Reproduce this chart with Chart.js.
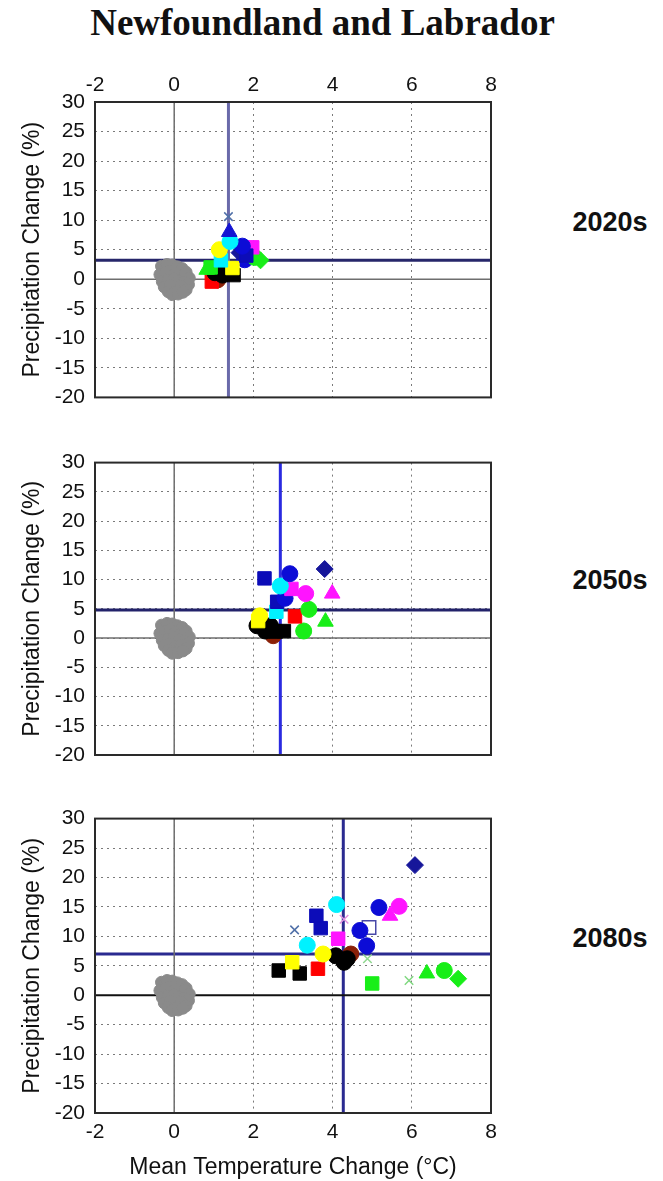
<!DOCTYPE html>
<html>
<head>
<meta charset="utf-8">
<script src="https://cdn.jsdelivr.net/npm/chart.js@4.4.0/dist/chart.umd.min.js"></script>
<style>
  body { margin: 0; background: #fff; }
  #page { position: relative; width: 663px; height: 1181px; overflow: hidden; background: #fff; }
  canvas { position: absolute; left: 0; }
  .title { position: absolute; left: 0; top: 2px; width: 645px; text-align: center;
           font: bold 37px "Liberation Serif", serif; line-height: 42px; color: #111; }
  .period { position: absolute; left: 560px; width: 100px; text-align: center;
            font: bold 27px "Liberation Sans", Arial, sans-serif; line-height: 27px; color: #111; }
</style>
</head>
<body>
<div id="page">
  <div class="title">Newfoundland and Labrador</div>
  <canvas id="c0" width="520" height="370" style="top:50px"></canvas>
  <canvas id="c1" width="520" height="340" style="top:440px"></canvas>
  <canvas id="c2" width="520" height="385" style="top:796px"></canvas>
  <div class="period" style="top:209px">2020s</div>
  <div class="period" style="top:567px">2050s</div>
  <div class="period" style="top:925px">2080s</div>
</div>
<script>
// Axis ranges and ticks
const xLimits = [-2, 8];
const yLimits = [-20, 30];
const xStep = 2;
const yStep = 5;

// Mean of all scenarios per period
const periods = ['2020s', '2050s', '2080s'];
const meanTemp = [1.37, 2.68, 4.27];
const meanPrecip = [3.2, 4.8, 7.0];

// Natural variability (control run) - same cloud in every panel
const controlTemp = [-0.32, -0.18, -0.05, 0.08, 0.2, 0.3, -0.36, -0.22, -0.1, 0.03, 0.15, 0.27, 0.38,
  -0.3, -0.15, 0, 0.12, 0.25, 0.36, -0.25, -0.1, 0.05, 0.18, 0.3, -0.15, 0, 0.14, -0.05, 0.1, 0.22];
const controlPrecip = [2.2, 2.5, 2.4, 2.1, 1.8, 1.2, 0.8, 1.1, 1.4, 1.0, 0.6, 0.9, 0.2,
  -0.4, -0.2, 0.1, -0.3, -0.5, -0.9, -1.3, -1.0, -1.4, -1.2, -1.8, -2.1, -2.3, -2.0, -2.6, -2.5, -2.2];

// Scenario runs, 2020s
const runs2020s = ['r01', 'r02', 'r06', 'r11', 'r05', 'r04', 'r03', 'r10', 'r16', 'r13', 'r07',
  'r12', 'r14', 'r15', 'r17', 'r26', 'r18', 'r23', 'r19', 'r20', 'r25'];
const temp2020s = [1.37, 1.39, 1.41, 1.14, 1.72, 1.82, 1.65, 1.97, 2.18, 2.03, 1.18,
  1.47, 0.82, 0.92, 1.03, 1.22, 1.50, 1.35, 0.95, 1.10, 1.78];
const precip2020s = [10.6, 8.0, 6.4, 5.0, 5.6, 4.0, 4.5, 5.4, 3.2, 3.7, 3.2,
  1.9, 1.6, 2.0, 1.1, 0.7, 0.7, 0.9, -0.4, -0.1, 3.3];

// Scenario runs, 2050s
const runs2050s = ['r04', 'r05', 'r03', 'r06', 'r10', 'r08', 'r09', 'r25', 'r28', 'r07', 'r13',
  'r19', 'r14', 'r11', 'r12', 'r17', 'r26', 'r18', 'r23', 'r27', 'r20', 'r29'];
const temp2050s = [2.28, 2.92, 3.80, 2.68, 2.96, 3.32, 3.99, 2.80, 2.60, 2.58, 3.40,
  3.05, 3.82, 2.16, 2.12, 2.09, 2.30, 2.56, 2.77, 2.43, 2.50, 3.27];
const precip2050s = [10.2, 11.0, 11.8, 8.9, 8.4, 7.6, 7.6, 6.8, 6.2, 4.5, 4.9,
  3.7, 2.8, 3.8, 2.9, 2.1, 1.2, 1.1, 1.2, 2.1, 0.4, 1.2];

// Scenario runs, 2080s
const runs2080s = ['r03', 'r05', 'r08', 'r09', 'r06', 'r04', 'r28', 'r01', 'r24', 'r25', 'r21',
  'r10', 'r30', 'r31', 'r11', 'r17', 'r26', 'r27', 'r20', 'r12', 'r18', 'r23', 'r19', 'r15',
  'r22', 'r14', 'r13', 'r16', 'r32'];
const temp2080s = [6.08, 5.17, 5.68, 5.45, 4.10, 3.59, 3.70, 3.04, 4.29, 4.69, 4.92,
  4.14, 4.86, 3.36, 3.76, 4.08, 4.37, 4.29, 4.46, 2.98, 2.64, 3.17, 3.63, 5.00,
  5.93, 6.38, 6.82, 7.17, 4.88];
const precip2080s = [22.1, 14.9, 15.1, 13.5, 15.4, 13.5, 11.4, 11.1, 12.9, 11.0, 11.5,
  9.6, 8.4, 8.5, 7.0, 6.7, 6.2, 5.6, 7.0, 5.6, 4.2, 3.7, 4.5, 2.0,
  2.5, 3.7, 4.2, 2.8, 6.2];

// Marker look for each run
const runStyles = {
  r01: { color: '#5070a8', shape: 'crossRot', fill: false },
  r02: { color: '#1414d2', shape: 'triangle', fill: true },
  r03: { color: '#16169a', shape: 'rectRot', fill: true },
  r04: { color: '#0c0cb8', shape: 'rect', fill: true },
  r05: { color: '#0c0cd6', shape: 'circle', fill: true },
  r06: { color: '#00f2ff', shape: 'circle', fill: true },
  r07: { color: '#00f2ff', shape: 'rect', fill: true },
  r08: { color: '#ff14ff', shape: 'circle', fill: true },
  r09: { color: '#ff14ff', shape: 'triangle', fill: true },
  r10: { color: '#ff14ff', shape: 'rect', fill: true },
  r11: { color: '#ffff00', shape: 'circle', fill: true },
  r12: { color: '#ffff00', shape: 'rect', fill: true },
  r13: { color: '#18ee18', shape: 'circle', fill: true },
  r14: { color: '#18ee18', shape: 'triangle', fill: true },
  r15: { color: '#18ee18', shape: 'rect', fill: true },
  r16: { color: '#18ee18', shape: 'rectRot', fill: true },
  r17: { color: '#000000', shape: 'circle', fill: true },
  r18: { color: '#000000', shape: 'rect', fill: true },
  r19: { color: '#ff0000', shape: 'rect', fill: true },
  r20: { color: '#8a2008', shape: 'circle', fill: true },
  r21: { color: '#4848a8', shape: 'rect', fill: false },
  r22: { color: '#80d880', shape: 'crossRot', fill: false },
  r23: { color: '#000000', shape: 'rect', fill: true },
  r24: { color: '#e090e0', shape: 'crossRot', fill: false },
  r25: { color: '#0c0cd6', shape: 'circle', fill: true },
  r26: { color: '#000000', shape: 'circle', fill: true },
  r27: { color: '#000000', shape: 'circle', fill: true },
  r28: { color: '#0c0cb8', shape: 'rect', fill: true },
  r29: { color: '#18ee18', shape: 'circle', fill: true },
  r30: { color: '#0c0cd6', shape: 'circle', fill: true },
  r31: { color: '#00f2ff', shape: 'circle', fill: true },
  r32: { color: '#90d890', shape: 'crossRot', fill: false }
};
const shapeRadius = { circle: 8, rect: 9.5, triangle: 9, rectRot: 8.5, crossRot: 6 };

const panelRuns = [runs2020s, runs2050s, runs2080s];
const panelTemp = [temp2020s, temp2050s, temp2080s];
const panelPrecip = [precip2020s, precip2050s, precip2080s];

// Layout of each panel (canvas pixel sizes)
const xAxisHeight = [52, 25, 68];
const panelPadding = [{ top: 0, bottom: 21, right: 29 }, { top: 19, bottom: 0, right: 29 }, { top: 20, bottom: 0, right: 29 }];
const meanLineColor = [['#6a6aaa', '#26266a'], ['#2a2ae0', '#22226a'], ['#2a2a90', '#2a2a90']];
const zeroLineColor = [['#6e6e6e', '#6e6e6e'], ['#6e6e6e', '#6e6e6e'], ['#6e6e6e', '#111111']];

const tickFont = { family: '"Liberation Sans", Arial, sans-serif', size: 21 };
const titleFont = { family: '"Liberation Sans", Arial, sans-serif', size: 23 };

const boxBorder = {
  id: 'boxBorder',
  afterDatasetsDraw(chart) {
    const { ctx, chartArea: a } = chart;
    ctx.save();
    ctx.strokeStyle = '#2a2a2a';
    ctx.lineWidth = 2;
    ctx.strokeRect(a.left, a.top, a.right - a.left, a.bottom - a.top);
    ctx.restore();
  }
};

function lineSet(points, color, width) {
  return { type: 'line', data: points, borderColor: color, borderWidth: width,
    pointRadius: 0, showLine: true, fill: false, order: 10 };
}

function buildDatasets(i) {
  const sets = [];
  // zero lines
  sets.push(lineSet([{ x: 0, y: yLimits[0] }, { x: 0, y: yLimits[1] }], zeroLineColor[i][0], 1.5));
  sets.push(lineSet([{ x: xLimits[0], y: 0 }, { x: xLimits[1], y: 0 }], zeroLineColor[i][1], i === 2 ? 2 : 1.5));
  // mean lines
  sets.push(lineSet([{ x: meanTemp[i], y: yLimits[0] }, { x: meanTemp[i], y: yLimits[1] }], meanLineColor[i][0], 3));
  sets.push(lineSet([{ x: xLimits[0], y: meanPrecip[i] }, { x: xLimits[1], y: meanPrecip[i] }], meanLineColor[i][1], 3));
  // control cloud
  sets.push({
    label: 'Control',
    data: controlTemp.map((t, k) => ({ x: t, y: controlPrecip[k] })),
    pointStyle: 'circle', pointRadius: 6, backgroundColor: '#8a8a8a', borderColor: '#8a8a8a',
    borderWidth: 1, order: 5
  });
  // scenario runs
  const runs = panelRuns[i];
  runs.forEach((run, k) => {
    const st = runStyles[run];
    sets.push({
      label: run,
      data: [{ x: panelTemp[i][k], y: panelPrecip[i][k] }],
      pointStyle: st.shape,
      pointRadius: shapeRadius[st.shape],
      backgroundColor: st.fill ? st.color : 'rgba(0,0,0,0)',
      borderColor: st.color,
      borderWidth: st.fill ? 1 : 1.5,
      order: 1
    });
  });
  return sets;
}

periods.forEach((p, i) => {
  new Chart(document.getElementById('c' + i), {
    type: 'scatter',
    data: { datasets: buildDatasets(i) },
    options: {
      responsive: false,
      animation: false,
      layout: { padding: { left: 0, right: panelPadding[i].right, top: panelPadding[i].top, bottom: panelPadding[i].bottom } },
      plugins: { legend: { display: false }, tooltip: { enabled: false } },
      scales: {
        x: {
          type: 'linear',
          position: i === 0 ? 'top' : 'bottom',
          min: xLimits[0], max: xLimits[1],
          ticks: { stepSize: xStep, display: i !== 1, font: tickFont, color: '#111', padding: i === 0 ? 4 : 7 },
          grid: { color: '#7a7a7a', lineWidth: 1, drawTicks: false },
          border: { display: false, dash: [2, 4] },
          title: { display: i === 2, text: 'Mean Temperature Change (°C)', font: titleFont, color: '#111', padding: 0 },
          afterFit(scale) { scale.height = xAxisHeight[i]; }
        },
        y: {
          type: 'linear',
          min: yLimits[0], max: yLimits[1],
          ticks: { stepSize: yStep, font: tickFont, color: '#111', padding: 10 },
          grid: { color: '#7a7a7a', lineWidth: 1, drawTicks: false },
          border: { display: false, dash: [2, 4] },
          title: { display: true, text: 'Precipitation Change (%)', font: titleFont, color: '#111', padding: { top: 19, bottom: 0 } },
          afterFit(scale) { scale.width = 95; }
        }
      }
    },
    plugins: [boxBorder]
  });
});
</script>
</body>
</html>
